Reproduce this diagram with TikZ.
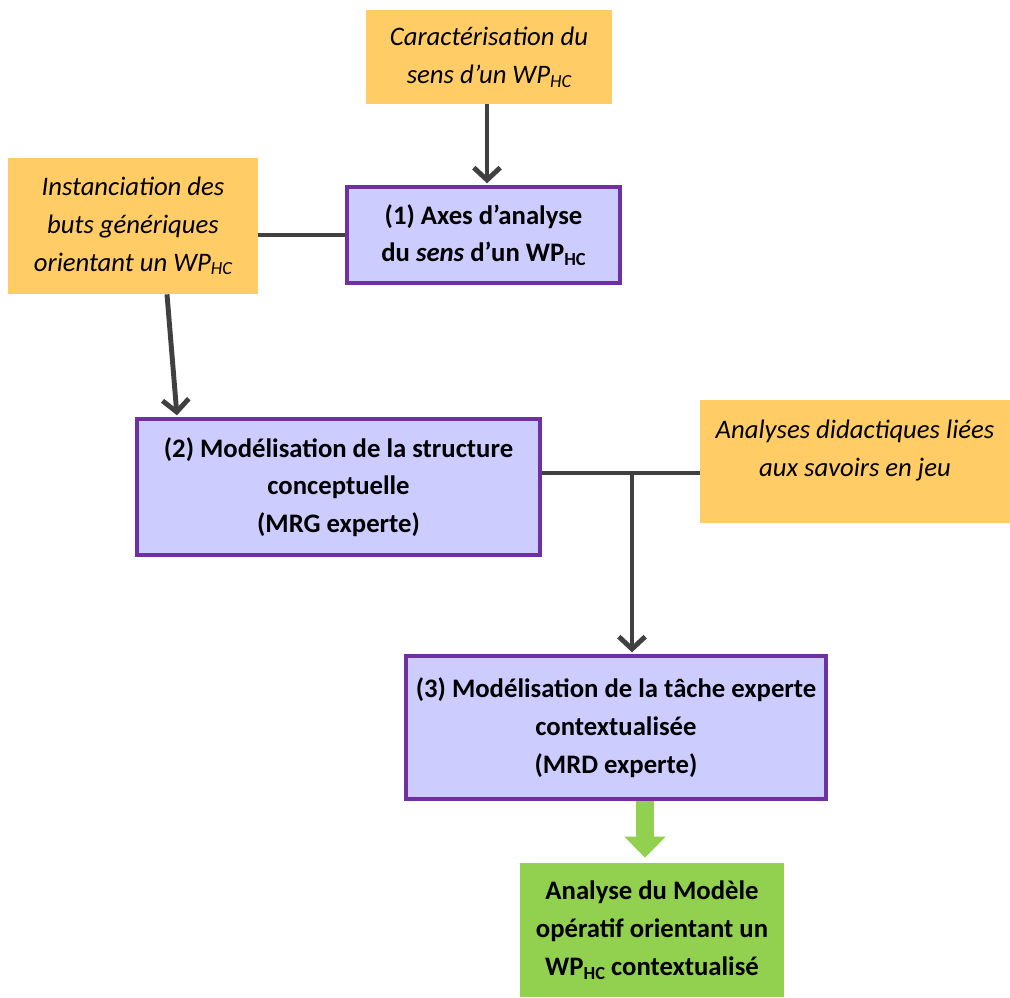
\documentclass[tikz,border=0pt]{standalone}
\usepackage{fontspec}
\setmainfont{Carlito}
\usepackage{xcolor}
\usetikzlibrary{positioning,arrows.meta}

\definecolor{boxorange}{HTML}{FFCC66}
\definecolor{boxlilac}{HTML}{CCCCFF}
\definecolor{boxpurple}{HTML}{7030A0}
\definecolor{boxgreen}{HTML}{92D050}
\definecolor{linegray}{HTML}{404040}

% subscript HC as in the original
\newcommand{\hcsub}{\raisebox{-0.3ex}{\fontsize{10.5}{11}\selectfont HC}}
\newcommand{\wphc}{WP\hcsub}

\tikzset{
  source/.style={fill=boxorange, align=center, font=\fontsize{15.2}{21.5}\selectfont\itshape},
  stage/.style={draw=boxpurple, line width=2.2pt, fill=boxlilac, align=center, font=\fontsize{15.2}{21.5}\selectfont\bfseries},
  result/.style={fill=boxgreen, align=center, font=\fontsize{15.2}{21.5}\selectfont\bfseries},
  link/.style={draw=linegray, line width=2.8pt},
  flow/.style={link, -{Straight Barb[length=7pt,width=15pt]}, shorten >=1pt},
  bigarrow/.style={draw=boxgreen, line width=10pt, -{Triangle[length=12pt,width=23pt]}}
}

\begin{document}
\begin{tikzpicture}[x=0.02cm, y=-0.02cm]
    \useasboundingbox (0,0) rectangle (1010,997);

    \node[source, minimum width=4.92cm, minimum height=1.88cm] (carac) at (489,57) {Caractérisation du\\sens d'un \wphc};
    \node[source, minimum width=5cm, minimum height=2.72cm] (inst) at (133,226) {Instanciation des\\buts génériques\\orientant un \wphc};
    \node[stage, minimum width=5.46cm, minimum height=1.92cm] (axes) at (483.5,235) {(1) Axes d'analyse\\du \textit{sens} d'un \wphc};
    \node[stage, minimum width=8.06cm, minimum height=2.72cm] (mrg) at (338.5,487) {(2) Modélisation de la structure\\conceptuelle\\(MRG experte)};
    \node[source, minimum width=6.2cm, minimum height=2.46cm] (didac) at (855,461.5) {Analyses didactiques liées\\aux savoirs en jeu\\[-6pt]~};
    \node[stage, minimum width=8.4cm, minimum height=2.86cm] (mrd) at (616,727.5) {(3) Modélisation de la tâche experte\\contextualisée\\(MRD experte)};
    \node[result, minimum width=5.28cm, minimum height=2.68cm] (model) at (652,930) {Analyse du Modèle\\opératif orientant un\\\wphc{} contextualisé};

    \coordinate (jn) at (632,473);

    \draw[flow] (carac.south -| 487,0) -- (axes.north -| 487,0);
    \draw[link] (inst.east |- axes.west) -- (axes.west);
    \draw[flow] ([xshift=0.68cm]inst.south) -- ([xshift=0.84cm]mrg.north west);
    \draw[link] (mrg.east |- jn) -- (jn -| didac.west);
    \draw[flow] (jn) -- (jn |- mrd.north);
    \draw[bigarrow] ([xshift=-0.14cm]model.north |- mrd.south) -- ([xshift=-0.14cm,yshift=0.1cm]model.north);
\end{tikzpicture}
\end{document}
